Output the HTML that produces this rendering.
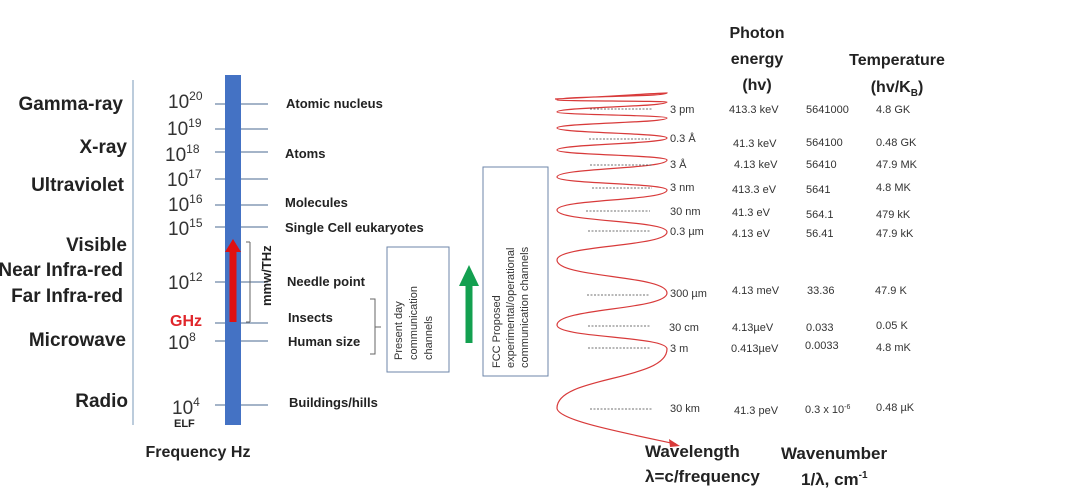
<!DOCTYPE html>
<html><head><meta charset="utf-8"><style>
html,body{margin:0;padding:0;background:#fff;}
svg{display:block;font-family:"Liberation Sans",sans-serif;}
.b{font-weight:bold;fill:#222;}
.s{font-size:11px;fill:#333;}
</style></head><body>
<svg width="1073" height="498" viewBox="0 0 1073 498">
<line x1="133" y1="80" x2="133" y2="425" stroke="#7a9ab8" stroke-width="1"/>
<g class="b" font-size="19" text-anchor="end">
<text x="123" y="110">Gamma-ray</text>
<text x="127" y="153">X-ray</text>
<text x="124" y="191">Ultraviolet</text>
<text x="127" y="251">Visible</text>
<text x="123" y="276">Near Infra-red</text>
<text x="123" y="302">Far Infra-red</text>
<text x="126" y="346">Microwave</text>
<text x="128" y="407">Radio</text>
</g>
<g stroke="#6d86a8" stroke-width="1.2">
<line x1="215" y1="104" x2="268" y2="104"/><line x1="215" y1="129" x2="268" y2="129"/>
<line x1="215" y1="152" x2="268" y2="152"/><line x1="215" y1="179" x2="268" y2="179"/>
<line x1="215" y1="205" x2="268" y2="205"/><line x1="215" y1="227" x2="268" y2="227"/>
<line x1="215" y1="282" x2="268" y2="282"/><line x1="215" y1="323" x2="268" y2="323"/>
<line x1="215" y1="341" x2="268" y2="341"/><line x1="215" y1="405" x2="268" y2="405"/>
</g>
<rect x="225" y="75" width="16" height="350" fill="#4472c4"/>
<g font-size="19" fill="#333">
<text x="168" y="108">10<tspan font-size="12" dy="-8">20</tspan></text>
<text x="167" y="135">10<tspan font-size="12" dy="-8">19</tspan></text>
<text x="165" y="161">10<tspan font-size="12" dy="-8">18</tspan></text>
<text x="167" y="186">10<tspan font-size="12" dy="-8">17</tspan></text>
<text x="168" y="211">10<tspan font-size="12" dy="-8">16</tspan></text>
<text x="168" y="235">10<tspan font-size="12" dy="-8">15</tspan></text>
<text x="168" y="289">10<tspan font-size="12" dy="-8">12</tspan></text>
<text x="168" y="349">10<tspan font-size="12" dy="-8">8</tspan></text>
<text x="172" y="414">10<tspan font-size="12" dy="-8">4</tspan></text>
</g>
<text x="174" y="427" font-size="11" class="b">ELF</text>
<text x="170" y="326" font-size="16" font-weight="bold" fill="#e0262b">GHz</text>
<line x1="233" y1="322" x2="233" y2="250" stroke="#e01010" stroke-width="7"/>
<polygon points="225,252 241,252 233,239" fill="#e01010"/>
<line x1="250" y1="242" x2="250" y2="322" stroke="#666" stroke-width="1"/>
<line x1="246" y1="242" x2="250" y2="242" stroke="#666"/><line x1="246" y1="322" x2="250" y2="322" stroke="#666"/>
<text class="b" font-size="13" transform="translate(271,306) rotate(-90)">mmw/THz</text>
<g class="b" font-size="13">
<text x="286" y="108">Atomic nucleus</text>
<text x="285" y="158">Atoms</text>
<text x="285" y="207">Molecules</text>
<text x="285" y="232">Single Cell eukaryotes</text>
<text x="287" y="286">Needle point</text>
<text x="288" y="322">Insects</text>
<text x="288" y="346">Human size</text>
<text x="289" y="407">Buildings/hills</text>
</g>
<path d="M370,299 H375 V327 H381 M375,327 V354 H370" fill="none" stroke="#666"/>
<rect x="387" y="247" width="62" height="125" fill="none" stroke="#6d86a8"/>
<g font-size="11" fill="#333">
<text transform="translate(402,360) rotate(-90)">Present day</text>
<text transform="translate(417,360) rotate(-90)">communication</text>
<text transform="translate(432,360) rotate(-90)">channels</text>
</g>
<line x1="469" y1="343" x2="469" y2="284" stroke="#13a050" stroke-width="7"/>
<polygon points="459,286 479,286 469,265" fill="#13a050"/>
<rect x="483" y="167" width="65" height="209" fill="none" stroke="#6d86a8"/>
<g font-size="11" fill="#333">
<text transform="translate(500,368) rotate(-90)">FCC Proposed</text>
<text transform="translate(514,368) rotate(-90)">experimental/operational</text>
<text transform="translate(528,368) rotate(-90)">communication channels</text>
</g>
<path d="M555,99 C600,97 640,94 667,93
C667,97 557,96 557,100
C557,101 667,101 667,102
C667,107 557,107 557,112
C557,115 667,115 667,118
C667,123 557,123 557,128
C557,133 667,133 667,138
C667,144 557,144 557,150
C557,155 667,155 667,160
C667,169 557,168 557,177
C557,184 667,183 667,190
C667,201 557,199 557,210
C557,222 667,220 667,232
C667,247 557,245 557,260
C557,278 667,275 667,293
C667,310 557,308 557,325
C557,338 667,336 667,349
C667,381 557,376 557,408
C557,420 620,432 676,444" fill="none" stroke="#d83a3a" stroke-width="1.2"/>
<polygon points="680,446 669,439 670,447" fill="#d83a3a"/>
<g stroke="#444" stroke-width="0.8" stroke-dasharray="2,1.5">
<line x1="590" y1="109" x2="652" y2="109"/><line x1="589" y1="139" x2="650" y2="139"/>
<line x1="590" y1="165" x2="652" y2="165"/><line x1="592" y1="188" x2="652" y2="188"/>
<line x1="586" y1="211" x2="650" y2="211"/><line x1="588" y1="231" x2="650" y2="231"/>
<line x1="587" y1="295" x2="650" y2="295"/><line x1="588" y1="326" x2="650" y2="326"/>
<line x1="588" y1="348" x2="650" y2="348"/><line x1="590" y1="409" x2="652" y2="409"/>
</g>
<g class="s">
<text x="670" y="113">3 pm</text><text x="670" y="142">0.3 Å</text><text x="670" y="168">3 Å</text>
<text x="670" y="191">3 nm</text><text x="670" y="215">30 nm</text><text x="670" y="235">0.3 µm</text>
<text x="670" y="297">300 µm</text><text x="669" y="331">30 cm</text><text x="670" y="352">3 m</text>
<text x="670" y="412">30 km</text>
<text x="729" y="113">413.3 keV</text><text x="733" y="147">41.3 keV</text><text x="734" y="168">4.13 keV</text>
<text x="732" y="193">413.3 eV</text><text x="732" y="216">41.3 eV</text><text x="732" y="237">4.13 eV</text>
<text x="732" y="294">4.13 meV</text><text x="732" y="331">4.13µeV</text><text x="731" y="352">0.413µeV</text>
<text x="734" y="414">41.3 peV</text>
<text x="806" y="113">5641000</text><text x="806" y="146">564100</text><text x="806" y="168">56410</text>
<text x="806" y="193">5641</text><text x="806" y="218">564.1</text><text x="806" y="237">56.41</text>
<text x="807" y="294">33.36</text><text x="806" y="331">0.033</text><text x="805" y="349">0.0033</text>
<text x="805" y="413">0.3 x 10<tspan font-size="7" dy="-4">-6</tspan></text>
<text x="876" y="113">4.8 GK</text><text x="876" y="146">0.48 GK</text><text x="876" y="168">47.9 MK</text>
<text x="876" y="191">4.8 MK</text><text x="876" y="218">479 kK</text><text x="876" y="237">47.9 kK</text>
<text x="875" y="294">47.9 K</text><text x="876" y="329">0.05 K</text><text x="876" y="351">4.8 mK</text>
<text x="876" y="411">0.48 µK</text>
</g>
<g class="b" font-size="16" text-anchor="middle">
<text x="757" y="38">Photon</text><text x="757" y="64">energy</text><text x="757" y="90">(hv)</text>
<text x="897" y="65">Temperature</text>
<text x="897" y="92">(hv/K<tspan font-size="10" dy="4">B</tspan><tspan dy="-4">)</tspan></text>
<text x="198" y="457">Frequency Hz</text>
</g>
<g class="b" font-size="17">
<text x="645" y="457">Wavelength</text>
<text x="645" y="482">λ=c/frequency</text>
<text x="781" y="459">Wavenumber</text>
<text x="801" y="485">1/λ, cm<tspan font-size="10" dy="-7">-1</tspan></text>
</g>
</svg>
</body></html>
